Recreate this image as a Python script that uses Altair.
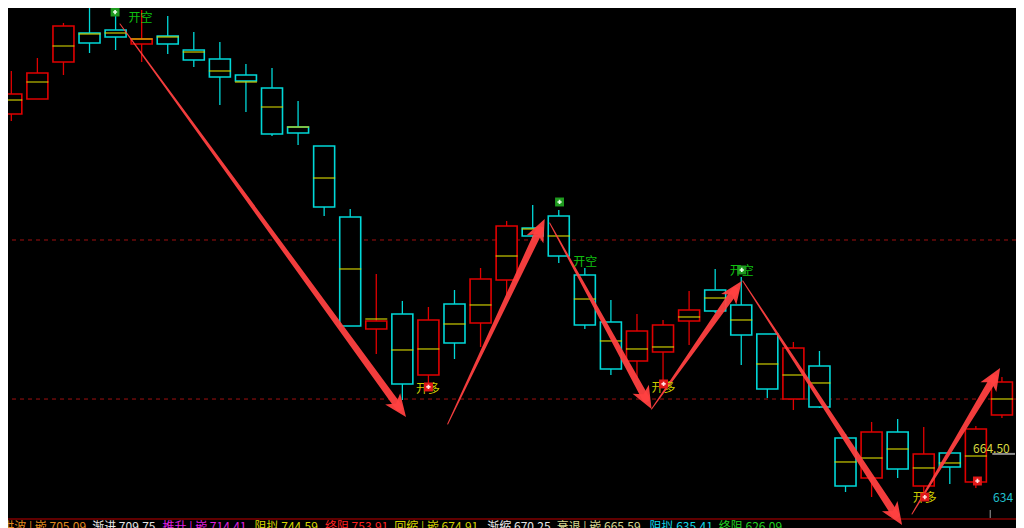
import math
import altair as alt
import pandas as pd

# ---------------- data ----------------
idx = list(range(1, 40))
opens = [729.00, 731.84, 738.87, 744.37, 744.94, 742.28, 743.80, 741.14, 739.43, 736.40,
         733.93, 726.53, 722.93, 709.45, 688.20, 691.05, 679.47, 692.95, 689.34, 697.50,
         707.37, 709.64, 698.45, 689.53, 682.13, 683.84, 689.72, 695.60, 692.76, 687.25,
         674.92, 681.18, 667.52, 659.93, 668.66, 658.41, 664.67, 659.17, 671.88]
closes = [732.79, 736.78, 745.70, 742.47, 743.61, 743.23, 742.28, 739.24, 736.02, 735.26,
          725.20, 725.39, 711.35, 688.77, 689.72, 677.77, 689.91, 685.55, 697.69, 707.75,
          705.85, 702.05, 688.96, 680.61, 687.82, 688.96, 691.81, 691.62, 687.06, 676.82,
          684.60, 673.40, 658.41, 668.66, 661.64, 664.48, 662.02, 669.23, 678.15]
highs = [737.16, 739.62, 746.27, 749.49, 747.59, 748.73, 747.59, 744.56, 742.66, 738.49,
         737.73, 731.47, 722.93, 710.97, 698.64, 693.52, 692.38, 695.60, 699.78, 708.70,
         711.73, 710.78, 699.78, 693.70, 691.05, 689.91, 695.41, 699.59, 698.07, 687.25,
         685.74, 684.03, 668.28, 670.56, 671.12, 669.61, 664.67, 669.80, 679.09]
lows = [727.67, 731.84, 736.40, 740.57, 741.14, 738.87, 740.38, 737.92, 730.71, 729.38,
        724.82, 723.12, 709.64, 688.77, 683.46, 674.73, 677.20, 682.51, 684.79, 694.65,
        705.09, 700.73, 688.20, 679.47, 679.09, 677.96, 685.17, 691.24, 681.37, 675.11,
        672.83, 673.21, 657.27, 656.32, 659.93, 656.70, 658.79, 658.03, 671.31]
mids = [731.65, 735.07, 741.90, 744.18, 744.37, 743.23, 743.61, 740.76, 737.16, 735.07,
        730.33, 726.53, 716.85, 699.59, 690.10, 684.22, 684.41, 689.15, 692.76, 702.05,
        707.18, 705.85, 693.89, 685.93, 684.41, 684.79, 690.48, 694.08, 689.91, 681.56,
        679.47, 677.96, 662.97, 663.72, 665.43, 661.83, 662.78, 664.10, 674.92]

# arrows (start -> end), in bar index / price
arrow_x0 = [5.17, 17.74, 21.65, 25.56, 29.06, 35.55]
arrow_p0 = [746.08, 670.18, 708.32, 673.02, 697.31, 653.10]
arrow_x1 = [16.14, 21.46, 25.56, 29.02, 35.17, 38.93]
arrow_p1 = [671.50, 709.07, 673.02, 697.31, 651.01, 680.80]

# dashed levels
levels = [705.09, 674.91]
separator = [652.15]

# signal labels
sig_text = ["开空", "开空", "开空", "开多", "开多", "开多"]
sig_x = [5.96, 23.02, 29.02, 16.98, 26.02, 36.04]
sig_p = [747.30, 700.92, 699.21, 676.82, 677.01, 656.13]
sig_kind = ["short", "short", "short", "long", "long", "long"]

green_x = [4.98, 22.03, 29.02]
green_p = [748.35, 712.30, 699.40]
red_x = [17.00, 26.02, 36.04, 38.06]
red_p = [677.20, 677.77, 656.32, 659.36]

# bottom status line
bt_text = ["拱波 | 嵌 705.09", "渐进 709.75", "推升 | 嵌 714.41", "阻拟 744.59", "终阻 753.91",
           "回缩 | 嵌 674.91", "渐缩 670.25", "衰退 | 嵌 665.59", "阻拟 635.41", "终阻 626.09"]
bt_x = [0.65, 4.10, 6.80, 10.33, 13.03, 15.69, 19.26, 21.92, 25.48, 28.14]
bt_color = ["#e08a1e", "#e6e6e6", "#e020e0", "#d8d800", "#ff2020",
            "#d0d000", "#e6e6e6", "#d8d890", "#10d8e8", "#20d020"]
bt_p = 651.50

last_price = 664.50
last_label = "664.50"
low_label = "634"

# ---------------- layout / style ----------------
X_MIN, X_MAX = 1.0646, 39.3476
Y_MIN, Y_MAX = 650.44, 749.11
W, H = 1008, 520
RED = "#e00000"
CYAN = "#00d8d8"
YEL = "#d8d800"
ARROW = "#ff4040"
FONT = "Noto Sans CJK SC"

xs = alt.Scale(domain=[X_MIN, X_MAX], nice=False, zero=False)
ys = alt.Scale(domain=[Y_MIN, Y_MAX], nice=False, zero=False)


def X(f):
    return alt.X(f, type="quantitative", scale=xs, axis=None)


def Y(f):
    return alt.Y(f, type="quantitative", scale=ys, axis=None)


candles = pd.DataFrame({"i": idx, "open": opens, "high": highs, "low": lows,
                        "close": closes, "mid": mids})
updown = alt.condition("datum.close >= datum.open", alt.value(RED), alt.value(CYAN))

base = alt.Chart(candles)
wicks = base.mark_rule(strokeWidth=1.3).encode(
    x=X("i"), y=Y("low"), y2=alt.Y2("high"), stroke=updown)
bodies = base.mark_bar(width=21, fill="#000000", strokeWidth=1.6).encode(
    x=X("i"), y=Y("open"), y2=alt.Y2("close"), stroke=updown)
midlines = base.mark_tick(orient="horizontal", size=22, thickness=1.6, color=YEL).encode(
    x=X("i"), y=Y("mid"))

lv = alt.Chart(pd.DataFrame({"p": levels})).mark_rule(
    color="#a01010", strokeWidth=1, strokeDash=[4, 4]).encode(y=Y("p"))
sep = alt.Chart(pd.DataFrame({"p": separator})).mark_rule(
    color="#800000", strokeWidth=1.6).encode(y=Y("p"))

# arrows
px_x = W / (X_MAX - X_MIN)
px_y = H / (Y_MAX - Y_MIN)
trail_rows, head_rows = [], []
for k in range(len(arrow_x0)):
    x0, p0, x1, p1 = arrow_x0[k], arrow_p0[k], arrow_x1[k], arrow_p1[k]
    dx = (x1 - x0) * px_x
    dy = -(p1 - p0) * px_y
    L = math.hypot(dx, dy)
    f = 1 - 12 / L
    trail_rows.append({"a": k, "o": 0, "x": x0, "p": p0, "w": 1.0})
    trail_rows.append({"a": k, "o": 1, "x": x0 + f * (x1 - x0), "p": p0 + f * (p1 - p0), "w": 7.5})
    head_rows.append({"x": x1, "p": p1, "ang": math.degrees(math.atan2(dx, -dy)) % 360})

trails = alt.Chart(pd.DataFrame(trail_rows)).mark_trail(color=ARROW, opacity=0.95).encode(
    x=X("x"), y=Y("p"), size=alt.Size("w:Q", scale=None),
    detail="a:N", order=alt.Order("o:Q"))
HEAD = "M0,0L-0.62,1.5L0,1.12L0.62,1.5Z"
heads = alt.Chart(pd.DataFrame(head_rows)).mark_point(
    shape=HEAD, filled=True, size=900, color=ARROW, opacity=0.95, strokeWidth=0).encode(
    x=X("x"), y=Y("p"), angle=alt.Angle("ang:Q", scale=None))

# signal labels
sig = pd.DataFrame({"t": sig_text, "x": sig_x, "p": sig_p, "k": sig_kind})
sig_labels = alt.Chart(sig).mark_text(font=FONT, fontSize=12, baseline="middle").encode(
    x=X("x"), y=Y("p"), text="t:N",
    color=alt.Color("k:N", scale=alt.Scale(domain=["short", "long"], range=["#10c010", "#cccc00"]),
                    legend=None))

gm = alt.Chart(pd.DataFrame({"x": green_x, "p": green_p}))
green_sq = gm.mark_point(shape="square", filled=True, size=80, color="#1e9a1e", opacity=1).encode(
    x=X("x"), y=Y("p"))
green_dot = gm.mark_point(shape="cross", filled=True, size=18, color="#e8ffe8", opacity=1).encode(
    x=X("x"), y=Y("p"))
rm = alt.Chart(pd.DataFrame({"x": red_x, "p": red_p}))
red_sq = rm.mark_point(shape="square", filled=True, size=80, color="#e01818", opacity=1).encode(
    x=X("x"), y=Y("p"))
red_dot = rm.mark_point(shape="cross", filled=True, size=18, color="#ffe0e0", opacity=1).encode(
    x=X("x"), y=Y("p"))

# right side price marks
price_line = alt.Chart(pd.DataFrame({"x": [38.63], "x2": [39.50], "p": [last_price]})).mark_rule(
    color="#8c8c8c", strokeWidth=2).encode(x=X("x"), x2="x2", y=Y("p"))
price_text = alt.Chart(pd.DataFrame({"x": [39.30], "p": [665.43], "t": [last_label]})).mark_text(
    font=FONT, fontSize=12, align="right", baseline="middle", color="#d8d840").encode(
    x=X("x"), y=Y("p"), text="t:N")
low_text = alt.Chart(pd.DataFrame({"x": [38.66], "p": [656.13], "t": [low_label]})).mark_text(
    font=FONT, fontSize=12, align="left", baseline="middle", color="#20c0d0").encode(
    x=X("x"), y=Y("p"), text="t:N")
tick_mark = alt.Chart(pd.DataFrame({"x": [38.55], "p": [653.86], "p2": [652.34]})).mark_rule(
    color="#a0a0a0", strokeWidth=1).encode(x=X("x"), y=Y("p"), y2="p2")

# bottom status text
bt = pd.DataFrame({"t": bt_text, "x": bt_x, "c": bt_color, "p": [bt_p] * len(bt_text)})
bottom = alt.Chart(bt).mark_text(font=FONT, fontSize=12, align="left", baseline="top").encode(
    x=X("x"), y=Y("p"), text="t:N", color=alt.Color("c:N", scale=None))

chart = alt.layer(
    lv, sep, wicks, bodies, midlines, trails, heads, sig_labels,
    green_sq, green_dot, red_sq, red_dot, price_line, price_text, low_text, tick_mark, bottom
).properties(
    width=W, height=H, padding=0, background="#000000",
    autosize=alt.AutoSizeParams(type="none")
).configure_view(stroke=None)

chart.save("out.html", embed_options={"renderer": "svg", "actions": False})
